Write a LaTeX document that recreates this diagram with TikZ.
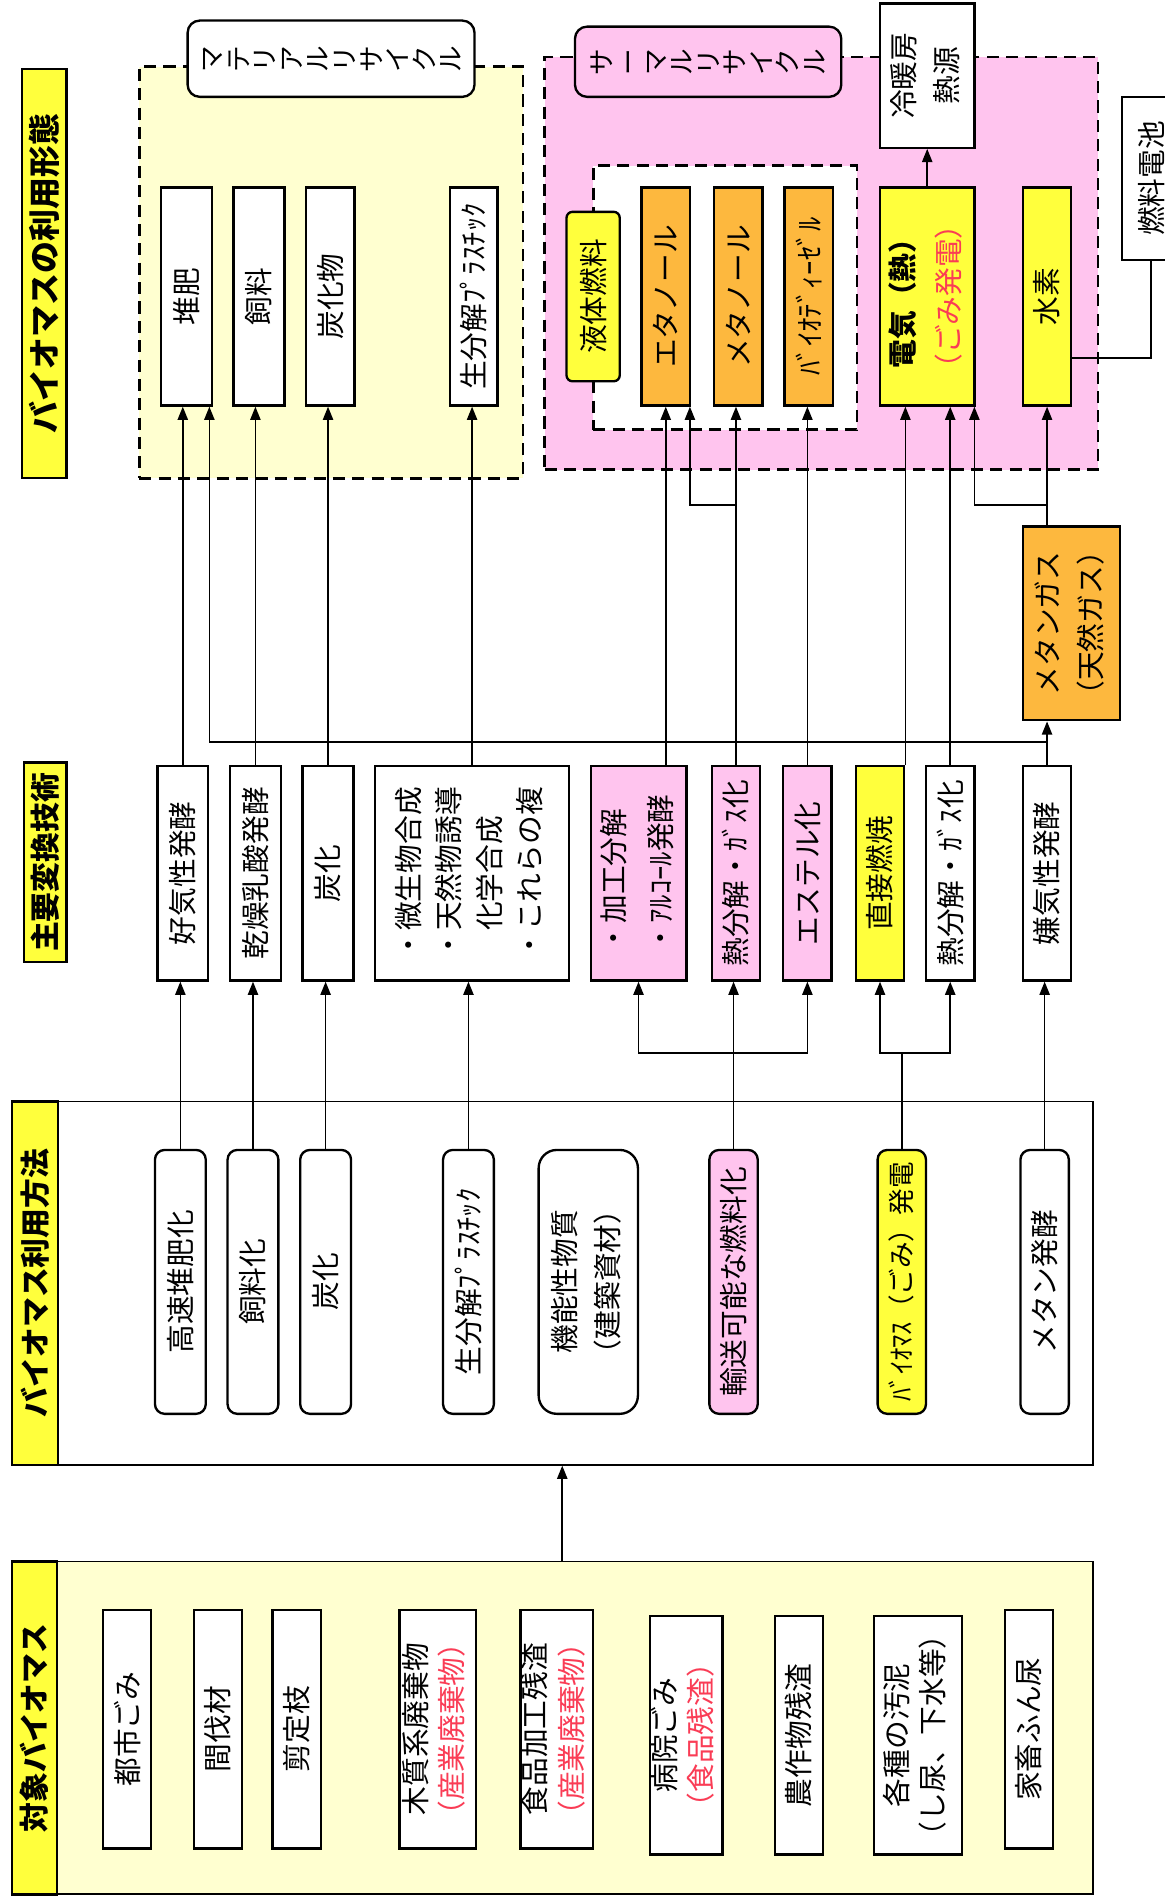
\documentclass[tikz,border=0pt]{standalone}
\usepackage{fontspec}
\usepackage{graphicx}
\usepackage{xcolor}
\usepackage{tikz}
\usetikzlibrary{calc,arrows.meta,positioning}
\setmainfont{Noto Sans CJK JP}
\definecolor{bioYellow}{RGB}{255,255,60}
\definecolor{bioYellowLight}{RGB}{255,255,208}
\definecolor{bioPink}{RGB}{255,196,238}
\definecolor{bioOrange}{RGB}{253,184,62}
\definecolor{bioRed}{RGB}{250,60,85}
% rotated text: one line, two lines, and character by character
\newcommand{\vtxt}[1]{\rotatebox{90}{#1}}
\newcommand{\vtwo}[3][17pt]{\rotatebox{90}{\fontsize{13.5}{#1}\selectfont\begin{tabular}{@{}c@{}}#2\\#3\end{tabular}}}
\newcommand{\tate}[1]{\tatestep#1\relax}
\newcommand{\tatestep}[1]{\ifx\relax#1\else\rotatebox{90}{\rule[-0.12em]{0pt}{1em}#1}\expandafter\tatestep\fi}

\begin{document}
\begin{tikzpicture}[x=0.2mm, y=-0.2mm,
  font=\fontsize{13.5}{17}\selectfont,
  boxAt/.style n args={4}{minimum width={(#3-#1)*0.2mm}, minimum height={(#4-#2)*0.2mm},
    at={({(#1+#3)/2},{(#2+#4)/2})}},
  box/.style={draw, line width=1.1pt, fill=white, inner sep=0pt},
  rbox/.style={box, rounded corners=1.6mm},
  hdr/.style={box, fill=bioYellow, font=\fontsize{14}{17}\selectfont\bfseries},
  lbl/.style={rbox, rounded corners=2mm, font=\fontsize{12.5}{15}\selectfont},
  area/.style={draw, line width=1.3pt, dash pattern=on 2mm off 1.2mm, inner sep=0pt},
  conn/.style={line width=0.8pt},
  arr/.style={conn, -{Triangle[length=2.2mm, width=1.7mm]}}]
\useasboundingbox (0,0) rectangle (962,1568);
\fill[white] (0,0) rectangle (962,1568);

% levels of the branching lines
\coordinate (yGas) at (0,417);
\coordinate (yTop) at (0,613);
\coordinate (yLow) at (0,870);

% utilisation forms
\node[hdr, font=\fontsize{15}{18}\selectfont\bfseries, boxAt={18}{57}{55}{395}] (hdUse) {\vtxt{バイオマスの利用形態}};
\node[area, fill=bioYellowLight, boxAt={115}{55}{432}{395}] (matArea) {};
\node[lbl, boxAt={155}{17}{392}{80}] (matLbl) {\tate{マテリアルリサイクル}};
\node[box, boxAt={133}{155}{175}{335}] (taihi) {\vtxt{堆肥}};
\node[box, boxAt={193}{155}{235}{335}] (shiryo) {\vtxt{飼料}};
\node[box, boxAt={253}{155}{293}{335}] (tankabutsu) {\vtxt{炭化物}};
\node[box, boxAt={372}{155}{411}{335}] (seibunP) {\vtxt{生分解ﾌﾟﾗｽﾁｯｸ}};

\node[area, fill=bioPink, boxAt={450}{47}{907}{388}] (thmArea) {};
\node[lbl, fill=bioPink, boxAt={475}{22}{695}{80}] (thmLbl) {\tate{サーマルリサイクル}};
\node[box, boxAt={727}{3}{805}{122}] (reidan) {\vtwo[20pt]{冷暖房}{熱源}};
\node[box, boxAt={927}{80}{975}{215}] (nenryo) {\vtxt{燃料電池}};
\node[area, fill=white, boxAt={490}{137}{708}{355}] (liqArea) {};
\node[rbox, rounded corners=1mm, fill=bioYellow, boxAt={468}{175}{512}{315}] (liqLbl) {\vtxt{液体燃料}};
\node[box, fill=bioOrange, boxAt={530}{155}{570}{335}] (ethanol) {\vtxt{エタノール}};
\node[box, fill=bioOrange, boxAt={590}{155}{630}{335}] (methanol) {\vtxt{メタノール}};
\node[box, fill=bioOrange, boxAt={648}{155}{688}{335}] (biodiesel) {\vtxt{ﾊﾞｲｵﾃﾞｨｰｾﾞﾙ}};
\node[box, fill=bioYellow, boxAt={727}{155}{805}{335}] (denki) {\vtwo[22pt]{\textbf{電気（熱）}}{\textcolor{bioRed}{（ごみ発電）}}};
\node[box, fill=bioYellow, boxAt={845}{155}{885}{335}] (suiso) {\vtxt{水素}};
\node[box, fill=bioOrange, boxAt={845}{435}{925}{595}] (mgas) {\vtwo[20pt]{メタンガス}{（天然ガス）}};

% conversion technologies
\node[hdr, boxAt={20}{630}{55}{795}] (hdTech) {\vtxt{主要変換技術}};
\node[box, boxAt={130}{633}{172}{810}] (kouki) {\vtxt{好気性発酵}};
\node[box, boxAt={190}{633}{232}{810}] (kansou) {\vtxt{乾燥乳酸発酵}};
\node[box, boxAt={250}{633}{292}{810}] (tanka2) {\vtxt{炭化}};
\node[box, boxAt={310}{633}{470}{810}] (biseibutsu) {\rotatebox{90}{\fontsize{13.5}{19}\selectfont
  \begin{tabular}{@{}l@{}}・微生物合成\\・天然物誘導\\　化学合成\\・これらの複\end{tabular}}};
\node[box, fill=bioPink, boxAt={488}{633}{567}{810}] (kakou) {\rotatebox{90}{\fontsize{13.5}{22}\selectfont
  \begin{tabular}{@{}l@{}}・加工分解\\・ｱﾙｺｰﾙ発酵\end{tabular}}};
\node[box, fill=bioPink, boxAt={588}{633}{628}{810}] (netsuP) {\vtxt{熱分解・ｶﾞｽ化}};
\node[box, fill=bioPink, boxAt={647}{633}{687}{810}] (ester) {\vtxt{エステル化}};
\node[box, fill=bioYellow, boxAt={707}{633}{747}{810}] (chokusetsu) {\vtxt{直接燃焼}};
\node[box, boxAt={765}{633}{805}{810}] (netsuW) {\vtxt{熱分解・ｶﾞｽ化}};
\node[box, boxAt={845}{633}{885}{810}] (kenki) {\vtxt{嫌気性発酵}};

% utilisation methods
\node[box, line width=0.9pt, boxAt={10}{910}{903}{1210}] (methodArea) {};
\node[hdr, boxAt={10}{910}{48}{1210}] (hdMethod) {\vtxt{バイオマス利用方法}};
\node[rbox, boxAt={128}{950}{170}{1168}] (kousoku) {\vtxt{高速堆肥化}};
\node[rbox, boxAt={188}{950}{230}{1168}] (shiryoka) {\vtxt{飼料化}};
\node[rbox, boxAt={248}{950}{290}{1168}] (tanka3) {\vtxt{炭化}};
\node[rbox, boxAt={366}{950}{408}{1168}] (seibun3) {\vtxt{生分解ﾌﾟﾗｽﾁｯｸ}};
\node[rbox, rounded corners=3mm, boxAt={445}{950}{527}{1168}] (kinou) {\vtwo[20pt]{機能性物質}{（建築資材）}};
\node[rbox, fill=bioPink, boxAt={586}{950}{626}{1168}] (yusou) {\vtxt{輸送可能な燃料化}};
\node[rbox, fill=bioYellow, font=\fontsize{12.5}{15}\selectfont, boxAt={725}{950}{765}{1168}] (hatsuden) {\vtxt{ﾊﾞｲｵﾏｽ（ごみ）発電}};
\node[rbox, boxAt={843}{950}{883}{1168}] (metanH) {\vtxt{メタン発酵}};

% target biomass
\node[box, line width=0.9pt, fill=bioYellowLight, boxAt={10}{1290}{903}{1565}] (targetArea) {};
\node[hdr, boxAt={10}{1290}{47}{1565}] (hdTarget) {\vtxt{対象バイオマス}};
\node[box, boxAt={85}{1330}{125}{1527}] (toshi) {\vtxt{都市ごみ}};
\node[box, boxAt={160}{1330}{200}{1527}] (kanbatsu) {\vtxt{間伐材}};
\node[box, boxAt={225}{1330}{265}{1527}] (sentei) {\vtxt{剪定枝}};
\node[box, boxAt={330}{1330}{393}{1527}] (mokushitsu) {\vtwo{木質系廃棄物}{\textcolor{bioRed}{（産業廃棄物）}}};
\node[box, boxAt={430}{1330}{490}{1527}] (shokuhin) {\vtwo{食品加工残渣}{\textcolor{bioRed}{（産業廃棄物）}}};
\node[box, boxAt={537}{1335}{597}{1532}] (byouin) {\vtwo{病院ごみ}{\textcolor{bioRed}{（食品残渣）}}};
\node[box, boxAt={640}{1335}{680}{1532}] (nousaku) {\vtxt{農作物残渣}};
\node[box, boxAt={722}{1335}{795}{1532}] (odei) {\vtwo{各種の汚泥}{（し尿、下水等）}};
\node[box, boxAt={830}{1330}{870}{1527}] (kachiku) {\vtxt{家畜ふん尿}};

% target -> methods
\draw[arr] ($(targetArea.north)+(8,0)$) -- ($(methodArea.south)+(8,0)$);

% methods -> technologies
\draw[arr] (kousoku.north) -- (kousoku.north |- kouki.south);
\draw[arr] (shiryoka.north) -- (shiryoka.north |- kansou.south);
\draw[arr] (tanka3.north) -- (tanka3.north |- tanka2.south);
\draw[arr] (seibun3.north) -- (seibun3.north |- biseibutsu.south);
\draw[arr] (yusou.north) -- (yusou.north |- netsuP.south);
\draw[arr] (yusou.north |- yLow) -| (kakou.south);
\draw[arr] (yusou.north |- yLow) -| (ester.south);
\draw[conn] (hatsuden.north) -- (hatsuden.north |- yLow);
\draw[arr] (hatsuden.north |- yLow) -| (chokusetsu.south);
\draw[arr] (hatsuden.north |- yLow) -| (netsuW.south);
\draw[arr] (metanH.north) -- (metanH.north |- kenki.south);

% technologies -> utilisation forms
\draw[arr] (kouki.north) -- (kouki.north |- taihi.south);
\draw[arr] (kansou.north) -- (kansou.north |- shiryo.south);
\draw[arr] (tanka2.north) -- (tanka2.north |- tankabutsu.south);
\draw[arr] (biseibutsu.north) -- (biseibutsu.north |- seibunP.south);
\draw[arr] (ethanol.south |- kakou.north) -- (ethanol.south);
\draw[arr] (netsuP.north) -- (netsuP.north |- methanol.south);
\draw[arr] (netsuP.north |- yGas) -| ($(ethanol.south east)+(-1,0)$);
\draw[arr] (ester.north) -- (ester.north |- biodiesel.south);
\draw[arr] (chokusetsu.north east) -- (chokusetsu.north east |- denki.south);
\draw[arr] (netsuW.north) -- (netsuW.north |- denki.south);
\draw[arr] (kenki.north) -- (kenki.north |- mgas.south);
\draw[arr] (kenki.north |- yTop) -| ($(taihi.south east)+(-3,0)$);
\draw[arr] (suiso.south |- mgas.north) -- (suiso.south);
\draw[arr] (suiso.south |- yGas) -| ($(denki.south east)+(-1,0)$);
\draw[arr] (denki.north) -- (reidan.south);
\draw[conn] ($(suiso.south east)+(0,-40)$) -| (nenryo.south);
\end{tikzpicture}
\end{document}
